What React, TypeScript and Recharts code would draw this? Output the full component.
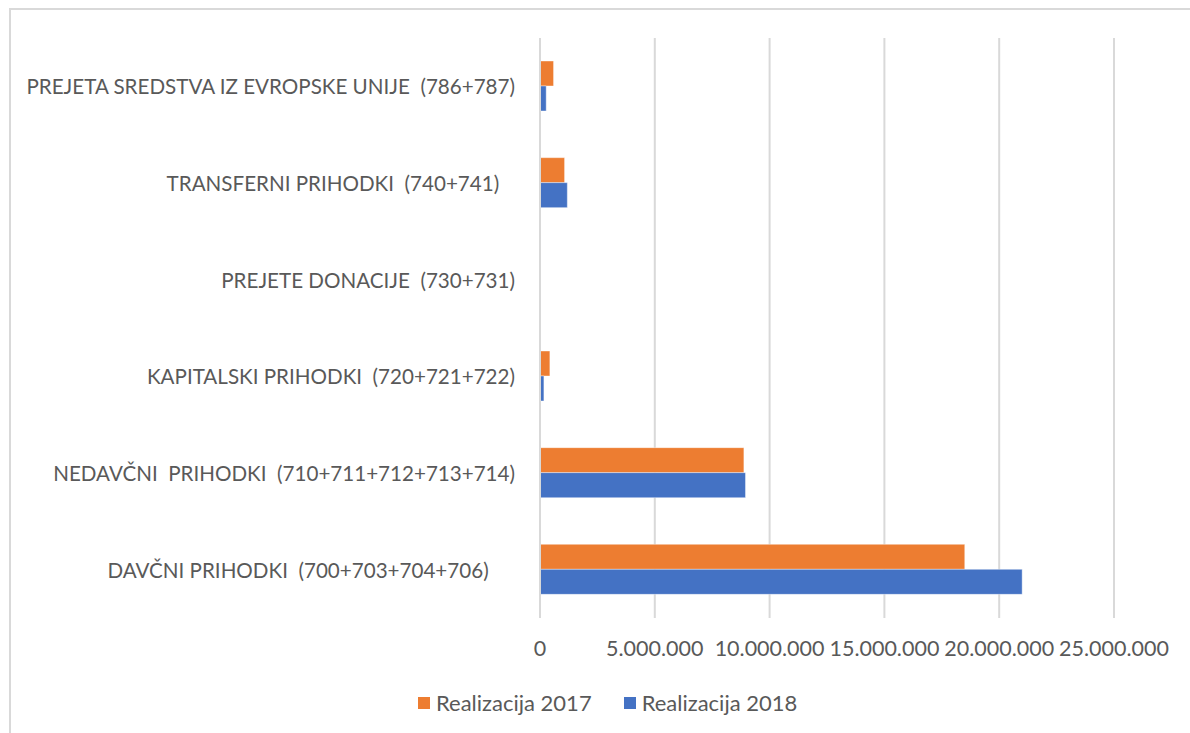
import React from 'react';
import { BarChart, Bar, XAxis, YAxis, CartesianGrid, Legend } from 'recharts';

const categories = [
  'PREJETA SREDSTVA IZ EVROPSKE UNIJE  (786+787)',
  'TRANSFERNI PRIHODKI  (740+741)   ',
  'PREJETE DONACIJE  (730+731)',
  'KAPITALSKI PRIHODKI  (720+721+722)',
  'NEDAVČNI  PRIHODKI  (710+711+712+713+714)',
  'DAVČNI PRIHODKI  (700+703+704+706)     ',
];
const realizacija2017 = [590000, 1070000, 0, 430000, 8880000, 18500000];
const realizacija2018 = [270000, 1190000, 0, 170000, 8950000, 21000000];
const xTicks = [0, 5000000, 10000000, 15000000, 20000000, 25000000];

const series = [
  { key: 'r2017', name: 'Realizacija 2017', color: '#ED7D31' },
  { key: 'r2018', name: 'Realizacija 2018', color: '#4472C4' },
];

const data = categories.map((name, i) => ({
  name,
  r2017: realizacija2017[i],
  r2018: realizacija2018[i],
}));

const FONT = 'Lato, "Noto Sans", sans-serif';
const TEXT = '#595959';
const GRID = '#D9D9D9';

const fmt = (v: number) => String(v).replace(/\B(?=(\d{3})+(?!\d))/g, '.');

function CategoryTick({ x, y, payload }: any) {
  return (
    <text
      x={x - 17}
      y={y}
      textAnchor="end"
      dominantBaseline="central"
      fill={TEXT}
      fontSize={20.6}
      fontFamily={FONT}
      style={{ whiteSpace: 'pre' }}
    >
      {payload.value}
    </text>
  );
}

function ValueTick({ x, y, payload }: any) {
  return (
    <text x={x} y={y} textAnchor="middle" dominantBaseline="central" fill={TEXT} fontSize={21.5} fontFamily={FONT}>
      {fmt(payload.value)}
    </text>
  );
}

function LegendBox() {
  return (
    <div style={{ display: 'flex', alignItems: 'center', fontFamily: FONT, fontSize: 22, color: TEXT }}>
      {series.map((s, i) => (
        <div key={s.key} style={{ display: 'flex', alignItems: 'center', marginRight: i === 0 ? 32 : 0 }}>
          <span style={{ width: 12, height: 12, background: s.color, display: 'inline-block', marginRight: 6 }} />
          <span>{s.name}</span>
        </div>
      ))}
    </div>
  );
}

export default function App() {
  return (
    <div
      style={{
        position: 'fixed',
        left: 0,
        top: 0,
        width: 1190,
        height: 733,
        overflow: 'hidden',
        background: '#fff',
      }}
    >
      <div
        style={{
          position: 'absolute',
          left: 9,
          top: 8,
          width: 1220,
          height: 760,
          border: `2px solid ${GRID}`,
          boxSizing: 'border-box',
        }}
      />
      <div style={{ position: 'absolute', left: 0, top: 0 }}>
        <BarChart
          width={1190}
          height={733}
          data={data}
          layout="vertical"
          margin={{ top: 38, right: 76, left: 0, bottom: 40 }}
          barGap={0}
          barCategoryGap="24%"
        >
          <CartesianGrid horizontal={false} stroke={GRID} strokeWidth={2} />
          <XAxis
            type="number"
            domain={[0, 25000000]}
            ticks={xTicks}
            axisLine={false}
            tickLine={false}
            tick={<ValueTick />}
            tickMargin={24}
            height={45}
            interval={0}
          />
          <YAxis
            type="category"
            dataKey="name"
            width={540}
            axisLine={{ stroke: GRID, strokeWidth: 2 }}
            tickLine={false}
            tick={<CategoryTick />}
            interval={0}
          />
          <Legend
            verticalAlign="bottom"
            content={<LegendBox />}
            wrapperStyle={{ left: 418, top: 689, width: 420, height: 30 }}
          />
          {series.map((s) => (
            <Bar
              key={s.key}
              dataKey={s.key}
              name={s.name}
              fill={s.color}
              barSize={25}
              stroke="#ffffff"
              strokeOpacity={0.4}
              strokeWidth={1}
              isAnimationActive={false}
            />
          ))}
        </BarChart>
      </div>
    </div>
  );
}
